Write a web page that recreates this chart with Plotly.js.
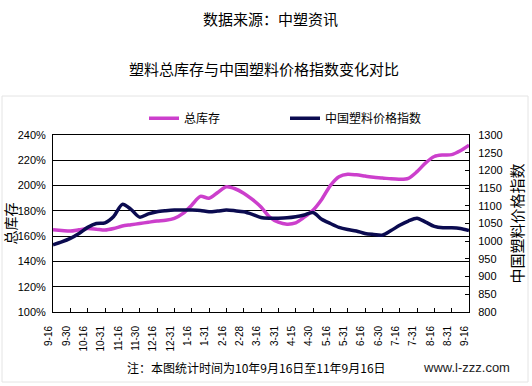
<!DOCTYPE html>
<html>
<head>
<meta charset="utf-8">
<script src="https://cdn.plot.ly/plotly-3.0.1.min.js"></script>
<style>html,body{margin:0;padding:0;background:#fff;}#chart{width:532px;height:386px;}</style>
</head>
<body>
<div id="chart"></div>
<script>
// Category tick labels (date, month-day)
const tickLabels = ["9-16","9-30","10-16","10-31","11-16","11-30","12-16","12-31","1-16","1-31","2-16","2-28","3-16","3-31","4-15","4-30","5-16","5-31","6-16","6-30","7-16","7-31","8-16","8-31","9-16"];

// Series values, sampled at each label and halfway between labels
const totalInventory = [165,164.5,164,165,166,165.5,164.8,166,168,169,170,171,172,172.5,174,178,184.5,191.5,190,194.5,199,197.5,194,189,183,175,171,169.5,170.5,175,180.5,189,200,207,209,208.5,207.5,206.5,206,205.3,205,205.7,211,218,223,224.2,224.5,227.5,232];
const priceIndex = [990,998,1008,1022,1039,1050,1052,1070,1104,1090,1068,1077,1083,1086,1088,1088,1088,1087,1083,1085,1088,1086,1083,1076,1067,1065,1065,1066,1069,1074,1081,1062,1050,1039,1033,1029,1022,1019,1017,1030,1045,1057,1065,1054,1042,1038,1038,1036,1030];

const seriesNames = ["总库存","中国塑料价格指数"];
const stepPerLabel = 2;
const xs = totalInventory.map((_, k) => k / stepPerLabel);
const tickPos = tickLabels.map((_, i) => i);

const cjk = '"Noto Sans CJK SC", "Noto Sans", sans-serif';
const lat = '"Liberation Sans", Arial, sans-serif';

const traces = [
  {x: xs, y: totalInventory, name: seriesNames[0], type: 'scatter', mode: 'lines',
   line: {color: '#CC3FCC', width: 3.5, shape: 'spline', smoothing: 0.8}, yaxis: 'y'},
  {x: xs, y: priceIndex, name: seriesNames[1], type: 'scatter', mode: 'lines',
   line: {color: '#0B0B50', width: 3.5, shape: 'spline', smoothing: 0.8}, yaxis: 'y2'},
  // empty helper trace so the overlaid x axis (inside tick marks) is drawn
  {x: [], y: [], xaxis: 'x2', yaxis: 'y', type: 'scatter', mode: 'lines', showlegend: false, hoverinfo: 'skip'}
];

const layout = {
  width: 532, height: 386,
  margin: {l: 53, r: 63, t: 135, b: 74, pad: 0},
  paper_bgcolor: '#fff', plot_bgcolor: '#fff',
  showlegend: true,
  title: {text: '塑料总库存与中国塑料价格指数变化对比', font: {family: cjk, size: 15, color: '#000'},
          x: 270/532, xanchor: 'center', xref: 'paper', yref: 'container', y: 1 - 70/386, yanchor: 'middle'},
  legend: {orientation: 'h', x: (144-53)/416, xanchor: 'left', y: 1.095, yanchor: 'middle',
           font: {family: cjk, size: 12, color: '#000'}, itemwidth: 30, bgcolor: 'rgba(0,0,0,0)',
           entrywidth: 96, entrywidthmode: 'pixels', tracegroupgap: 0},
  xaxis: {range: [0, 24], tickmode: 'array', tickvals: tickPos, ticktext: tickLabels,
          tickangle: -90, ticks: 'outside', ticklen: 9, tickcolor: 'rgba(0,0,0,0)',
          tickfont: {family: lat, size: 10, color: '#000'}, ticklabelshift: -4,
          showline: true, linecolor: '#000', linewidth: 1, mirror: true, showgrid: false, zeroline: false,
          fixedrange: true},
  xaxis2: {range: [0, 24], overlaying: 'x', anchor: 'y', side: 'bottom', tickmode: 'array', tickvals: tickPos,
           ticks: 'inside', ticklen: 4, tickcolor: '#000', showticklabels: false,
           showline: false, showgrid: false, zeroline: false},
  yaxis: {range: [100, 240], dtick: 20, tick0: 100, ticksuffix: '%', showgrid: true, gridcolor: '#000', gridwidth: 1,
          ticks: '', tickfont: {family: lat, size: 11, color: '#000'}, ticklabelstandoff: 4,
          showline: true, linecolor: '#000', linewidth: 1, zeroline: false,
          title: {text: '总库存', font: {family: cjk, size: 14, color: '#000'}, standoff: 0}},
  yaxis2: {range: [800, 1300], dtick: 50, tick0: 800, overlaying: 'y', side: 'right', showgrid: false,
           ticks: 'inside', ticklen: 4, tickcolor: '#000', tickfont: {family: lat, size: 11, color: '#000'},
           ticklabelstandoff: 6,
           showline: true, linecolor: '#000', linewidth: 1, zeroline: false,
           title: {text: '中国塑料价格指数', font: {family: cjk, size: 15, color: '#000'}, standoff: 10}},
  annotations: [
    {text: '数据来源：中塑资讯', xref: 'paper', yref: 'paper', x: (270-53)/416, y: (312-18)/177,
     xanchor: 'center', yanchor: 'middle', showarrow: false, font: {family: cjk, size: 15, color: '#000'}},
    {text: '注：本图统计时间为10年9月16日至11年9月16日', xref: 'paper', yref: 'paper', x: (256-53)/416, y: (312-367)/177,
     xanchor: 'center', yanchor: 'middle', showarrow: false, font: {family: cjk, size: 12, color: '#000'}},
    {text: 'www.l-zzz.com', xref: 'paper', yref: 'paper', x: (466-53)/416, y: (312-367)/177,
     xanchor: 'center', yanchor: 'middle', showarrow: false, font: {family: lat, size: 13, color: '#222'}}
  ],
  shapes: [
    {type: 'rect', xref: 'paper', yref: 'paper', x0: -51/416, x1: 475/416, y0: -70/177, y1: (312-96)/177,
     line: {color: '#e4e4e4', width: 1}, fillcolor: 'rgba(0,0,0,0)', layer: 'below'}
  ]
};

Plotly.newPlot('chart', traces, layout, {displayModeBar: false, staticPlot: true});
</script>
</body>
</html>
